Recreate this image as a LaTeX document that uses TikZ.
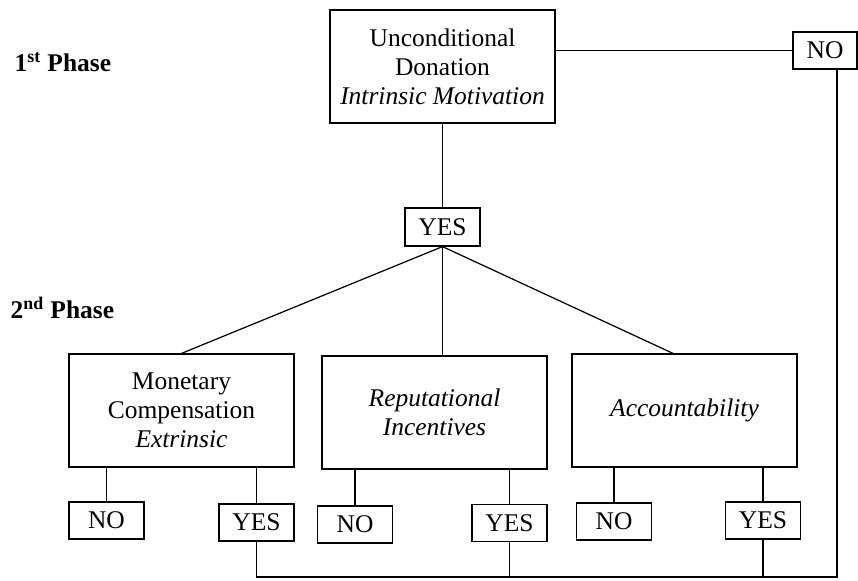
\documentclass[tikz,border=0pt]{standalone}
\usepackage{fontspec}
\setmainfont{Liberation Serif}
\usetikzlibrary{positioning}

\tikzset{
  bigbox/.style={draw,line width=0.7pt,align=center,minimum width=4.5cm,minimum height=2.26cm,inner sep=2pt},
  smallbox/.style={draw,line width=0.7pt,minimum width=1.5cm,minimum height=0.74cm,inner sep=1pt},
  phaselabel/.style={anchor=west,inner sep=0pt,font=\bfseries}
}

\begin{document}
\begin{tikzpicture}[x=0.02cm,y=0.02cm,line width=0.7pt]
    \fontsize{14.5}{16.6}\selectfont
    \useasboundingbox (0,0) rectangle (858,581);
    % Phases
    \node[phaselabel] (phaseA) at (14,519) {1\textsuperscript{st} Phase};
    \node[phaselabel] (phaseB) at (10,273) {2\textsuperscript{nd} Phase};
    % 1st phase
    \node[bigbox] (top) at (442.5,514.5) {Unconditional\\Donation\\\textit{Intrinsic Motivation}};
    \node[smallbox,minimum width=1.28cm] (noTop) at (825,530.5) {NO};
    \node[smallbox,minimum height=0.76cm] (yesTop) at (442.5,354) {YES};
    \draw (top.east |- noTop.west) -- (noTop.west);
    \draw (top.south) -- (yesTop.north);
    % 2nd phase
    \node[bigbox] (mon) at (181.5,170.5) {Monetary\\Compensation\\\textit{Extrinsic}};
    \node[bigbox] (rep) at (434.5,168.5) {\textit{Reputational}\\\textit{Incentives}};
    \node[bigbox] (acc) at (684.5,170.5) {\textit{Accountability}};
    \draw (yesTop.south) -- (mon.north);
    \draw (yesTop.south) -- (yesTop.south |- rep.north);
    \draw (yesTop.south) -- ([xshift=-0.23cm]acc.north);
    % answers
    \node[smallbox] (noA) at (106.5,60.5) {NO};
    \node[smallbox] (yesA) at (256.5,58.5) {YES};
    \node[smallbox] (noB) at (355,56.5) {NO};
    \node[smallbox] (yesB) at (509.5,58) {YES};
    \node[smallbox] (noC) at (614,59.5) {NO};
    \node[smallbox] (yesC) at (763,60.5) {YES};
    \draw (noA.north) -- (noA.north |- mon.south);
    \draw (yesA.north) -- (yesA.north |- mon.south);
    \draw (noB.north) -- (noB.north |- rep.south);
    \draw (yesB.north) -- (yesB.north |- rep.south);
    \draw (noC.north) -- (noC.north |- acc.south);
    \draw (yesC.north) -- (yesC.north |- acc.south);
    % back to the start
    \coordinate (busR) at (837,4);
    \draw (yesA.south) |- (busR) -- (busR |- noTop.south);
    \draw (yesB.south) -- (yesB.south |- busR);
    \draw (yesC.south) -- (yesC.south |- busR);
\end{tikzpicture}
\end{document}
